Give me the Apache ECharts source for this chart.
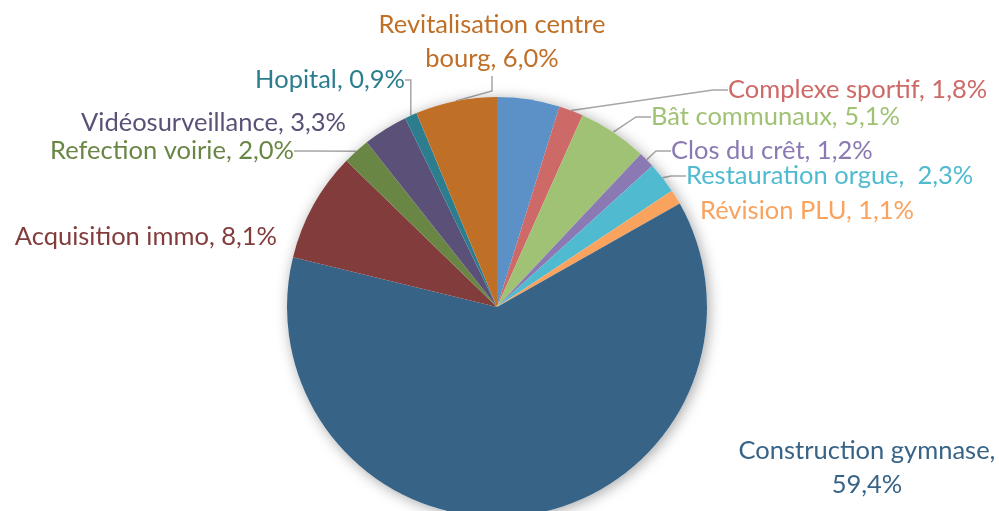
<!DOCTYPE html>
<html>
<head>
<meta charset="utf-8">
<script src="https://cdn.jsdelivr.net/npm/echarts@6/dist/echarts.min.js"></script>
<style>
  html, body { margin: 0; padding: 0; background: #fff; }
  #chart-container { width: 999px; height: 511px; }
</style>
</head>
<body>
<div id="chart-container"></div>
<script>
// slices, clockwise from 12 o'clock (the first blue one has no label)
var names = ['', 'Complexe sportif', 'Bât communaux', 'Clos du crêt', 'Restauration orgue', 'Révision PLU',
    'Construction gymnase', 'Acquisition immo', 'Refection voirie', 'Vidéosurveillance', 'Hopital',
    'Revitalisation centre\nbourg'];
var values = [4.6, 1.8, 5.1, 1.2, 2.3, 1.1, 59.4, 8.1, 2.0, 3.3, 0.9, 6.0];
var colors = ['#5B91C6', '#CD6966', '#A0C274', '#8B79B3', '#50BBD0', '#F9A35E',
    '#376387', '#813C3B', '#6A8645', '#5B5077', '#2C7D8E', '#C06F27'];
var seps = [', ', ', ', ', ', ', ', ',  ', ', ', ',\n', ', ', ', ', ', ', ', ', ', '];
var hasLine = [false, true, true, true, true, false, false, false, true, false, true, true];

// where each label sits: x, y, align
var labelPos = [
    [0, 0, 'left'],
    [728, 90, 'left'],
    [651, 117, 'left'],
    [671, 151, 'left'],
    [686, 176, 'left'],
    [700, 211, 'left'],
    [867, 468, 'center'],
    [277, 237, 'right'],
    [294, 151, 'right'],
    [346, 123, 'right'],
    [405, 80, 'right'],
    [492, 42, 'center']
];

var myChart = echarts.init(document.getElementById('chart-container'));

var pieData = [];
var total = 0;
names.forEach(function (name, i) {
    total += values[i];
    pieData.push({
        name: name,
        value: values[i],
        itemStyle: { color: colors[i] },
        label: { show: i > 0, color: colors[i] },
        labelLine: { show: hasLine[i] }
    });
});

var option = {
    animation: false,
    series: [{
        // soft shadow under the disc
        type: 'pie',
        silent: true,
        center: [497, 307],
        radius: 210,
        label: { show: false },
        labelLine: { show: false },
        itemStyle: { color: '#fff', shadowBlur: 14, shadowColor: 'rgba(0,0,0,0.35)', shadowOffsetX: 2, shadowOffsetY: 2 },
        data: [{ value: total }]
    }, {
        type: 'pie',
        center: [497, 307],
        radius: 210,
        startAngle: 90,
        clockwise: true,
        avoidLabelOverlap: false,
        itemStyle: { borderWidth: 0 },
        label: {
            fontFamily: 'Lato',
            fontSize: 25.5,
            lineHeight: 34,
            formatter: function (p) {
                return p.name + seps[p.dataIndex] + p.value.toFixed(1).replace('.', ',') + '%';
            }
        },
        labelLine: {
            lineStyle: { color: '#A6A6A6', width: 1.5 },
            length: 15,
            length2: 15
        },
        labelLayout: function (params) {
            var pos = labelPos[params.dataIndex];
            return { x: pos[0], y: pos[1], align: pos[2], verticalAlign: 'middle' };
        },
        data: pieData
    }]
};
myChart.setOption(option);
</script>
</body>
</html>
